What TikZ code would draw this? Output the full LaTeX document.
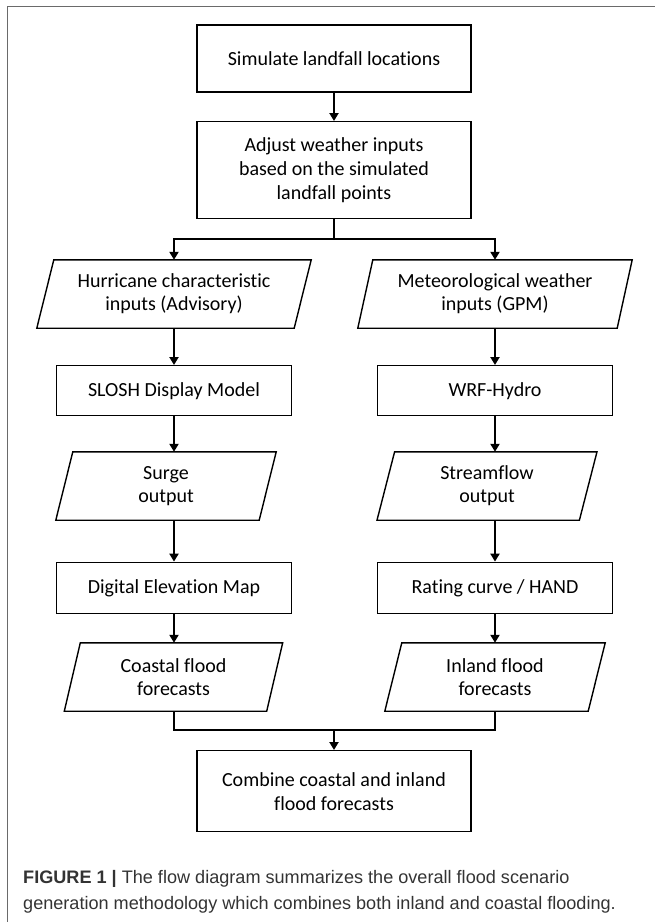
\documentclass[tikz,border=0pt]{standalone}
\usepackage{fontspec}
\setmainfont{Carlito}[RawFeature={-liga}]
\newfontfamily\capfont{Liberation Sans}
\usetikzlibrary{arrows.meta}
\definecolor{framegray}{HTML}{6A6A6A}
\definecolor{captext}{HTML}{333333}
\newcommand\drawpara[2]{\draw[pshape] ([xshift=#2]#1.north west) -- ([xshift=#2]#1.north east) -- ([xshift=-#2]#1.south east) -- ([xshift=-#2]#1.south west) -- cycle;}
\begin{document}
\begin{tikzpicture}[x=1pt,y=-1pt,
  proc/.style={draw=black, line width=1.4pt, inner sep=0pt, align=center, font=\fontsize{20}{24}\selectfont},
  wide/.style={minimum width=274pt},
  narrow/.style={minimum width=235pt, minimum height=50pt},
  para/.style={inner sep=0pt, align=center, minimum height=68pt, font=\fontsize{20}{23}\selectfont},
  pshape/.style={draw=black, line width=1.4pt, line join=miter},
  conn/.style={draw=black, line width=2.6pt},
  arr/.style={conn, -{Triangle[length=8pt,width=9pt]}},
  frameline/.style={draw=framegray, line width=1.4pt},
  captxt/.style={inner sep=0pt, anchor=base west, text=captext, font=\capfont\fontsize{18.1}{20}\selectfont}
]
\useasboundingbox (0,0) rectangle (655,922);
% frame
\draw[frameline] (655,6.5) -- (7.5,6.5) -- (7.5,922);

% nodes
\node[proc, wide, minimum height=67pt] (sim) at (334,58.5) {Simulate landfall locations};
\node[proc, wide, minimum height=97pt] (adj) at (334,170.2) {Adjust weather inputs\\based on the simulated\\landfall points};

\node[para, minimum width=257pt] (hur) at (174,294) {Hurricane characteristic\\inputs (Advisory)};
\node[para, minimum width=259pt] (met) at (495,294) {Meteorological weather\\inputs (GPM)};
\drawpara{hur}{8.5pt}
\drawpara{met}{7.5pt}

\node[proc, narrow] (slosh) at (174,390.7) {SLOSH Display Model};
\node[proc, narrow] (wrf) at (495,390.7) {WRF-Hydro};

\node[para, minimum width=203pt] (surge) at (166,486) {Surge\\output};
\node[para, minimum width=202pt] (stream) at (487,486) {Streamflow\\output};
\drawpara{surge}{8.5pt}
\drawpara{stream}{8.8pt}

\node[proc, narrow, minimum height=51pt] (dem) at (174,587.8) {Digital Elevation Map};
\node[proc, narrow, minimum height=51pt] (rating) at (495,587.8) {Rating curve / HAND};

\node[para, minimum width=202pt] (coastal) at (173.5,677) {Coastal flood\\forecasts};
\node[para, minimum width=203pt] (inland) at (495,677) {Inland flood\\forecasts};
\drawpara{coastal}{8pt}
\drawpara{inland}{8.5pt}

\node[proc, wide, minimum height=81pt] (comb) at (334,791.2) {Combine coastal and inland\\flood forecasts};

% connectors
\coordinate (split) at (334,239);
\coordinate (join) at (334,730);
\draw[arr] (sim) -- (adj);
\draw[conn] (adj.south) -- (split);
\draw[arr] (split) -| (hur.north);
\draw[arr] (split) -| (met.north);
\draw[arr] (hur.south) -- (slosh.north);
\draw[arr] (met.south) -- (wrf.north);
\draw[arr] (slosh.south) -- (slosh.south |- surge.north);
\draw[arr] (wrf.south) -- (wrf.south |- stream.north);
\draw[arr] (dem.north |- surge.south) -- (dem.north);
\draw[arr] (rating.north |- stream.south) -- (rating.north);
\draw[arr] (dem.south) -- (dem.south |- coastal.north);
\draw[arr] (rating.south) -- (rating.south |- inland.north);
\draw[conn] (dem.south |- coastal.south) |- (join) -| (inland.south);
\draw[arr] (join) -- (comb.north);

% caption
\node[captxt] (cap1) at (23,883) {\textbf{FIGURE 1 |} The flow diagram summarizes the overall flood scenario};
\node[captxt] (cap2) at (23,909) {generation methodology which combines both inland and coastal flooding.};
\end{tikzpicture}
\end{document}
